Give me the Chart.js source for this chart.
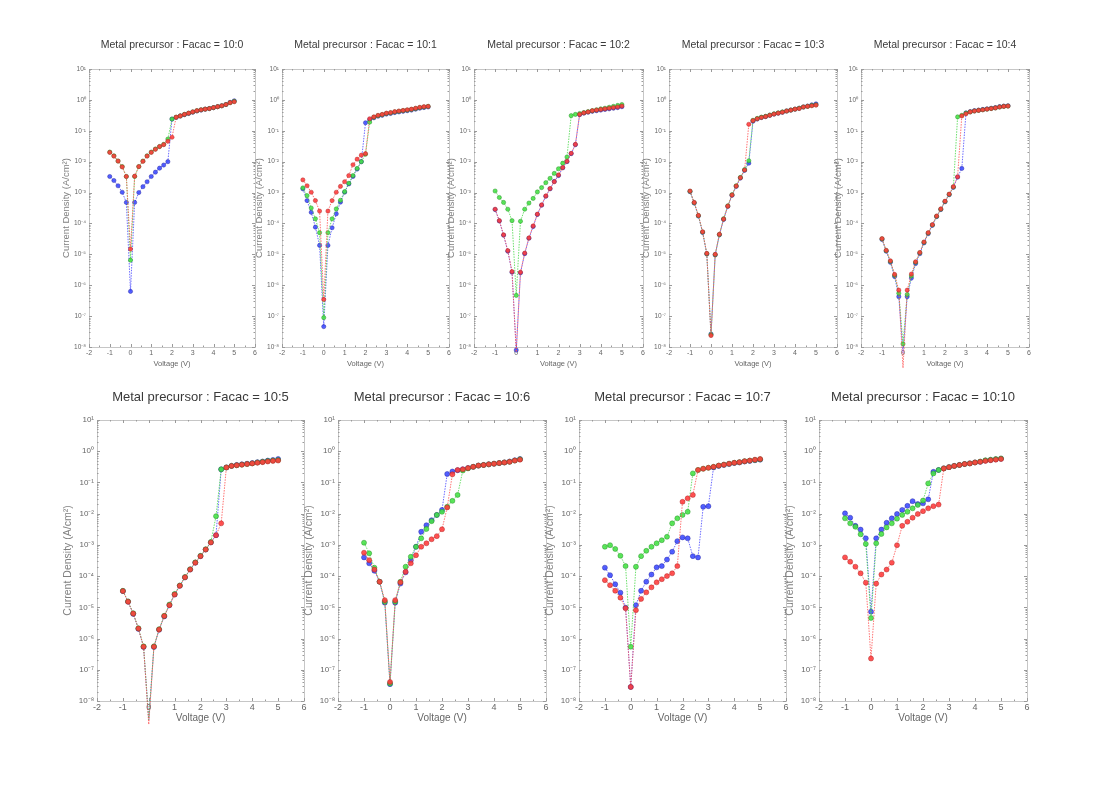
<!DOCTYPE html>
<html>
<head>
<meta charset="utf-8">
<script src="https://cdn.jsdelivr.net/npm/chart.js@4.4.0/dist/chart.umd.min.js"></script>
<style>
  html, body { margin: 0; padding: 0; background: #fff; }
  body { width: 1104px; height: 808px; position: relative; overflow: hidden; }
  canvas { position: absolute; }
</style>
</head>
<body>
<script>
// ============================
// DATA
// ============================
// voltage sweep shared by every panel (V)
const voltage = [-1.0, -0.8, -0.6, -0.4, -0.2, 0.0, 0.2, 0.4, 0.6, 0.8, 1.0, 1.2, 1.4, 1.6, 1.8, 2.0,
                 2.2, 2.4, 2.6, 2.8, 3.0, 3.2, 3.4, 3.6, 3.8, 4.0, 4.2, 4.4, 4.6, 4.8, 5.0];

// metal precursor : Facac ratios, one panel each
const ratios = ['10:0', '10:1', '10:2', '10:3', '10:4', '10:5', '10:6', '10:7', '10:10'];

// y tick decades (log10 of A/cm2) and x ticks (V)
const decades = [-8, -7, -6, -5, -4, -3, -2, -1, 0, 1];
const voltTicks = [-2, -1, 0, 1, 2, 3, 4, 5, 6];

// log10 of current density (A/cm2)
const j10_0_red   = [-1.70,-1.82,-1.98,-2.17,-2.48,-4.83,-2.47,-2.16,-1.99,-1.82,-1.70,-1.60,-1.51,-1.45,-1.34,-1.21,
                     -0.56,-0.52,-0.47,-0.43,-0.39,-0.35,-0.32,-0.30,-0.28,-0.25,-0.22,-0.19,-0.15,-0.09,-0.06];
const j10_0_green = [-1.69,-1.81,-1.98,-2.16,-2.48,-5.19,-2.48,-2.16,-1.98,-1.81,-1.69,-1.59,-1.51,-1.44,-1.27,-0.62,
                     -0.56,-0.52,-0.47,-0.43,-0.39,-0.35,-0.32,-0.30,-0.28,-0.25,-0.22,-0.19,-0.15,-0.09,-0.05];
const j10_0_blue  = [-2.48,-2.61,-2.78,-2.99,-3.32,-6.20,-3.32,-3.00,-2.81,-2.65,-2.48,-2.34,-2.21,-2.11,-2.00,-0.62,
                     -0.57,-0.52,-0.48,-0.44,-0.40,-0.36,-0.33,-0.30,-0.28,-0.25,-0.22,-0.19,-0.15,-0.08,-0.03];

const j10_1_red   = [-2.59,-2.78,-2.99,-3.26,-3.60,-6.46,-3.60,-3.26,-2.99,-2.80,-2.65,-2.45,-2.10,-1.92,-1.79,-1.74,
                     -0.61,-0.55,-0.50,-0.47,-0.43,-0.41,-0.38,-0.36,-0.34,-0.32,-0.30,-0.27,-0.24,-0.22,-0.21];
const j10_1_green = [-2.85,-3.10,-3.50,-3.85,-4.30,-7.05,-4.30,-3.85,-3.53,-3.25,-2.97,-2.70,-2.45,-2.22,-2.00,-1.76,
                     -0.72,-0.56,-0.51,-0.48,-0.44,-0.42,-0.39,-0.37,-0.35,-0.33,-0.31,-0.28,-0.25,-0.23,-0.21];
const j10_1_blue  = [-2.88,-3.26,-3.64,-4.12,-4.71,-7.34,-4.71,-4.14,-3.69,-3.31,-2.99,-2.72,-2.48,-2.24,-2.00,-0.74,
                     -0.64,-0.58,-0.53,-0.50,-0.46,-0.44,-0.41,-0.39,-0.37,-0.35,-0.33,-0.30,-0.27,-0.25,-0.23];

const j10_2_red   = [-3.54,-3.91,-4.37,-4.88,-5.56,-8.16,-5.58,-4.96,-4.47,-4.08,-3.70,-3.40,-3.11,-2.87,-2.65,-2.43,
                     -2.19,-1.99,-1.73,-1.44,-0.47,-0.42,-0.39,-0.35,-0.33,-0.31,-0.29,-0.27,-0.25,-0.23,-0.20];
const j10_2_green = [-2.95,-3.16,-3.32,-3.54,-3.91,-6.33,-3.93,-3.54,-3.34,-3.19,-2.98,-2.84,-2.68,-2.54,-2.38,-2.23,
                     -2.05,-1.85,-0.51,-0.47,-0.44,-0.41,-0.38,-0.35,-0.32,-0.29,-0.27,-0.24,-0.21,-0.18,-0.15];
const j10_2_blue  = [-3.55,-3.92,-4.38,-4.90,-5.58,-8.10,-5.60,-4.98,-4.48,-4.10,-3.71,-3.41,-3.12,-2.88,-2.64,-2.45,
                     -2.20,-2.00,-1.74,-1.45,-0.48,-0.43,-0.40,-0.37,-0.35,-0.33,-0.31,-0.29,-0.27,-0.25,-0.22];

const j10_3_red   = [-2.95,-3.32,-3.74,-4.27,-4.97,-7.63,-5.00,-4.35,-3.86,-3.44,-3.08,-2.79,-2.52,-2.27,-0.79,-0.67,
                     -0.61,-0.57,-0.54,-0.50,-0.46,-0.43,-0.40,-0.36,-0.33,-0.30,-0.28,-0.23,-0.21,-0.19,-0.17];
const j10_3_green = [-2.96,-3.33,-3.75,-4.28,-4.98,-7.60,-5.01,-4.36,-3.85,-3.43,-3.07,-2.78,-2.51,-2.26,-1.97,-0.66,
                     -0.60,-0.56,-0.53,-0.49,-0.45,-0.42,-0.39,-0.36,-0.33,-0.30,-0.27,-0.23,-0.21,-0.18,-0.16];
const j10_3_blue  = [-2.97,-3.34,-3.76,-4.29,-4.99,-7.58,-5.02,-4.37,-3.87,-3.45,-3.09,-2.80,-2.53,-2.28,-2.05,-0.69,
                     -0.62,-0.57,-0.54,-0.50,-0.46,-0.43,-0.40,-0.36,-0.33,-0.30,-0.27,-0.23,-0.20,-0.16,-0.13];

const j10_4_red   = [-4.49,-4.87,-5.21,-5.65,-6.16,-8.68,-6.16,-5.64,-5.24,-4.94,-4.60,-4.30,-4.04,-3.76,-3.53,-3.28,
                     -3.05,-2.81,-2.49,-0.52,-0.45,-0.39,-0.36,-0.34,-0.32,-0.30,-0.28,-0.26,-0.23,-0.21,-0.20];
const j10_4_green = [-4.50,-4.88,-5.23,-5.68,-6.26,-7.90,-6.30,-5.70,-5.26,-4.95,-4.61,-4.31,-4.05,-3.77,-3.54,-3.29,
                     -3.06,-2.82,-0.55,-0.50,-0.43,-0.39,-0.36,-0.34,-0.32,-0.30,-0.28,-0.26,-0.23,-0.21,-0.20];
const j10_4_blue  = [-4.52,-4.90,-5.26,-5.72,-6.37,-8.20,-6.37,-5.77,-5.30,-4.98,-4.63,-4.33,-4.06,-3.78,-3.55,-3.30,
                     -3.07,-2.83,-2.50,-2.22,-0.42,-0.38,-0.35,-0.33,-0.31,-0.29,-0.27,-0.25,-0.22,-0.20,-0.19];

const j10_5_red   = [-4.48,-4.82,-5.20,-5.68,-6.26,-8.75,-6.26,-5.71,-5.28,-4.93,-4.59,-4.31,-4.04,-3.79,-3.57,-3.36,
                     -3.15,-2.92,-2.69,-2.31,-0.52,-0.47,-0.45,-0.43,-0.41,-0.39,-0.37,-0.35,-0.33,-0.31,-0.30];
const j10_5_green = [-4.47,-4.81,-5.19,-5.67,-6.25,-8.60,-6.25,-5.70,-5.27,-4.91,-4.57,-4.30,-4.03,-3.78,-3.56,-3.35,
                     -3.14,-2.91,-2.08,-0.58,-0.52,-0.47,-0.45,-0.43,-0.41,-0.39,-0.36,-0.34,-0.31,-0.30,-0.28];
const j10_5_blue  = [-4.48,-4.82,-5.21,-5.69,-6.27,-8.60,-6.27,-5.72,-5.29,-4.93,-4.59,-4.31,-4.04,-3.79,-3.57,-3.36,
                     -3.15,-2.92,-2.69,-0.58,-0.52,-0.47,-0.44,-0.42,-0.40,-0.38,-0.35,-0.33,-0.30,-0.28,-0.25];

const j10_6_red   = [-3.25,-3.49,-3.79,-4.18,-4.77,-7.39,-4.77,-4.20,-3.86,-3.59,-3.33,-3.06,-2.95,-2.82,-2.72,-2.50,
                     -1.80,-0.74,-0.60,-0.58,-0.54,-0.50,-0.46,-0.44,-0.42,-0.40,-0.38,-0.36,-0.34,-0.30,-0.27];
const j10_6_green = [-2.93,-3.27,-3.73,-4.18,-4.82,-7.44,-4.82,-4.18,-3.70,-3.38,-3.06,-2.79,-2.49,-2.24,-2.04,-1.94,
                     -1.78,-1.59,-1.40,-0.62,-0.55,-0.50,-0.46,-0.44,-0.42,-0.40,-0.38,-0.36,-0.34,-0.30,-0.26];
const j10_6_blue  = [-3.40,-3.59,-3.83,-4.18,-4.85,-7.46,-4.85,-4.24,-3.88,-3.49,-3.06,-2.58,-2.37,-2.21,-2.04,-1.88,
                     -0.73,-0.65,-0.61,-0.58,-0.54,-0.50,-0.46,-0.44,-0.42,-0.40,-0.38,-0.36,-0.33,-0.29,-0.25];

const j10_7_red   = [-4.13,-4.29,-4.47,-4.69,-5.03,-7.55,-5.09,-4.73,-4.52,-4.36,-4.20,-4.10,-4.00,-3.91,-3.68,-1.62,
                     -1.51,-1.40,-0.60,-0.56,-0.53,-0.50,-0.46,-0.43,-0.40,-0.37,-0.35,-0.32,-0.30,-0.27,-0.25];
const j10_7_green = [-3.06,-3.01,-3.13,-3.35,-3.68,-6.26,-3.70,-3.36,-3.19,-3.06,-2.95,-2.85,-2.74,-2.31,-2.15,-2.04,
                     -1.94,-0.71,-0.60,-0.56,-0.53,-0.50,-0.46,-0.43,-0.40,-0.37,-0.35,-0.32,-0.30,-0.28,-0.26];
const j10_7_blue  = [-3.73,-3.97,-4.26,-4.53,-5.01,-7.55,-4.93,-4.47,-4.18,-3.95,-3.72,-3.68,-3.47,-3.22,-2.88,-2.76,
                     -2.79,-3.36,-3.40,-1.78,-1.76,-0.52,-0.47,-0.44,-0.41,-0.38,-0.36,-0.33,-0.31,-0.29,-0.27];

const j10_10_red   = [-3.40,-3.54,-3.70,-3.91,-4.21,-6.64,-4.24,-3.95,-3.79,-3.57,-3.01,-2.39,-2.26,-2.13,-2.01,-1.92,
                      -1.83,-1.76,-1.71,-0.55,-0.51,-0.47,-0.44,-0.41,-0.39,-0.36,-0.34,-0.31,-0.29,-0.27,-0.25];
const j10_10_green = [-2.15,-2.31,-2.42,-2.66,-2.97,-5.34,-2.95,-2.65,-2.44,-2.31,-2.16,-2.04,-1.94,-1.83,-1.72,-1.58,
                      -1.03,-0.71,-0.60,-0.55,-0.51,-0.47,-0.44,-0.41,-0.39,-0.36,-0.33,-0.29,-0.27,-0.25,-0.23];
const j10_10_blue  = [-1.99,-2.13,-2.39,-2.51,-2.79,-5.14,-2.79,-2.51,-2.29,-2.15,-2.01,-1.88,-1.75,-1.60,-1.69,-1.67,
                      -1.54,-0.66,-0.60,-0.55,-0.51,-0.47,-0.44,-0.41,-0.39,-0.36,-0.34,-0.30,-0.28,-0.26,-0.24];

// red / green / blue measurement per panel
const series = [
  [j10_0_red, j10_0_green, j10_0_blue],
  [j10_1_red, j10_1_green, j10_1_blue],
  [j10_2_red, j10_2_green, j10_2_blue],
  [j10_3_red, j10_3_green, j10_3_blue],
  [j10_4_red, j10_4_green, j10_4_blue],
  [j10_5_red, j10_5_green, j10_5_blue],
  [j10_6_red, j10_6_green, j10_6_blue],
  [j10_7_red, j10_7_green, j10_7_blue],
  [j10_10_red, j10_10_green, j10_10_blue]
];

// ============================
// LAYOUT (plot box of each panel in page pixels)
// ============================
const rows = [
  { top: 69,  h: 278, yw: 30, xh: 22, titleSize: 10.5, titleCenter: 24, xTick: 7, yTick: 6.5, xTitle: 7.5, yTitle: 9.5, yTitleGap: 22.5, radius: 2.1 },
  { top: 420, h: 281, yw: 38, xh: 24, titleSize: 13,   titleCenter: 23, xTick: 9, yTick: 8,   xTitle: 10,  yTitle: 10.5, yTitleGap: 29, radius: 2.5 }
];
const boxes = [
  { row: 0, x: 89,  w: 166 }, { row: 0, x: 282, w: 167 }, { row: 0, x: 474, w: 169 },
  { row: 0, x: 669, w: 168 }, { row: 0, x: 861, w: 168 },
  { row: 1, x: 97,  w: 207 }, { row: 1, x: 338, w: 208 }, { row: 1, x: 579, w: 207 },
  { row: 1, x: 819, w: 208 }
];
const TITLE_BLOCK = 34;
const FONT = "'Liberation Sans', Arial, sans-serif";

const colors = [
  { line: 'rgba(255,80,80,0.8)',  fill: 'rgba(255,60,60,0.88)', edge: 'rgba(170,30,30,0.9)' },
  { line: 'rgba(70,215,70,0.8)',  fill: 'rgba(70,225,70,0.88)', edge: 'rgba(30,140,30,0.9)' },
  { line: 'rgba(70,70,255,0.8)',  fill: 'rgba(60,75,255,0.88)', edge: 'rgba(30,30,160,0.9)' }
];

const supMap = { '-': '\u207B', '0': '\u2070', '1': '\u00B9', '2': '\u00B2', '3': '\u00B3',
                 '4': '\u2074', '5': '\u2075', '6': '\u2076', '7': '\u2077', '8': '\u2078', '9': '\u2079' };
function sup(n) { return String(n).split('').map(c => supMap[c] || c).join(''); }

// dotted frame with inward ticks, like the original plot boxes
const framePlugin = {
  id: 'frame',
  beforeDatasetsDraw(chart) {
    const { ctx, chartArea: a, scales: { x, y } } = chart;
    ctx.save();
    ctx.strokeStyle = '#8c8c8c';
    ctx.lineWidth = 1;
    ctx.setLineDash([1, 1]);
    ctx.strokeRect(Math.round(a.left) + 0.5, Math.round(a.top) + 0.5,
                   Math.round(a.right - a.left), Math.round(a.bottom - a.top));
    ctx.setLineDash([]);
    ctx.strokeStyle = '#9a9a9a';
    ctx.beginPath();
    for (let v = voltTicks[0]; v <= voltTicks[voltTicks.length - 1]; v += 0.5) {
      const px = Math.round(x.getPixelForValue(v)) + 0.5;
      const len = Number.isInteger(v) ? 3 : 1.5;
      ctx.moveTo(px, a.bottom); ctx.lineTo(px, a.bottom - len);
      ctx.moveTo(px, a.top); ctx.lineTo(px, a.top + len);
    }
    for (const d of decades) {
      for (let k = 1; k <= 9; k++) {
        const v = d + Math.log10(k);
        if (v > decades[decades.length - 1]) break;
        const py = Math.round(y.getPixelForValue(v)) + 0.5;
        const len = k === 1 ? 3 : 1.5;
        ctx.moveTo(a.left, py); ctx.lineTo(a.left + len, py);
        ctx.moveTo(a.right, py); ctx.lineTo(a.right - len, py);
      }
    }
    ctx.stroke();
    ctx.restore();
  }
};

function makePanel(i) {
  const box = boxes[i];
  const r = rows[box.row];
  const cv = document.createElement('canvas');
  cv.width = r.yw * 2 + box.w;
  cv.height = TITLE_BLOCK + r.h + r.xh;
  cv.style.left = (box.x - r.yw) + 'px';
  cv.style.top = (r.top - TITLE_BLOCK) + 'px';
  document.body.appendChild(cv);

  const titleLH = r.titleSize * 1.2;
  const titlePadTop = TITLE_BLOCK - r.titleCenter - titleLH / 2;

  const datasets = series[i].map((arr, k) => ({
    data: voltage.map((v, j) => ({ x: v, y: arr[j] })),
    showLine: true,
    borderColor: colors[k].line,
    borderWidth: 1,
    borderDash: [1.5, 1.2],
    pointRadius: r.radius,
    pointBackgroundColor: colors[k].fill,
    pointBorderColor: colors[k].edge,
    pointBorderWidth: 0.5,
    clip: false
  }));

  new Chart(cv, {
    type: 'scatter',
    data: { datasets },
    plugins: [framePlugin],
    options: {
      responsive: false,
      animation: false,
      devicePixelRatio: 1,
      layout: { padding: 0, autoPadding: false },
      plugins: {
        legend: { display: false },
        tooltip: { enabled: false },
        title: {
          display: true,
          text: 'Metal precursor : Facac = ' + ratios[i],
          color: '#3a3a3a',
          font: { family: FONT, size: r.titleSize, weight: 'normal', lineHeight: 1.2 },
          padding: { top: titlePadTop, bottom: TITLE_BLOCK - titlePadTop - titleLH }
        }
      },
      scales: {
        x: {
          type: 'linear',
          min: voltTicks[0],
          max: voltTicks[voltTicks.length - 1],
          afterBuildTicks: s => { s.ticks = voltTicks.map(v => ({ value: v })); },
          ticks: { color: '#666', font: { family: FONT, size: r.xTick }, padding: box.row === 0 ? 2 : 1,
                   maxRotation: 0, autoSkip: false },
          grid: { display: false, drawTicks: false },
          border: { display: false },
          title: { display: true, text: 'Voltage (V)', color: '#666',
                   font: { family: FONT, size: r.xTitle }, padding: { top: 0, bottom: 1 } },
          afterFit: s => { s.height = r.xh; }
        },
        y: {
          type: 'linear',
          min: decades[0],
          max: decades[decades.length - 1],
          afterBuildTicks: s => { s.ticks = decades.map(v => ({ value: v })); },
          ticks: { color: '#666', font: { family: FONT, size: r.yTick }, padding: 3,
                   callback: v => '10' + sup(v) },
          grid: { display: false, drawTicks: false },
          border: { display: false },
          title: { display: true, text: 'Current Density (A/cm\u00B2)', color: '#808080',
                   font: { family: FONT, size: r.yTitle, lineHeight: 1.2 },
                   padding: { top: r.yw - r.yTitleGap - r.yTitle * 0.6, bottom: 0 } },
          afterFit: s => { s.width = r.yw; }
        },
        yRight: {
          type: 'linear',
          position: 'right',
          display: true,
          ticks: { display: false },
          grid: { display: false, drawTicks: false },
          border: { display: false },
          afterFit: s => { s.width = r.yw; }
        }
      }
    }
  });
}

boxes.forEach((b, i) => makePanel(i));
</script>
</body>
</html>
